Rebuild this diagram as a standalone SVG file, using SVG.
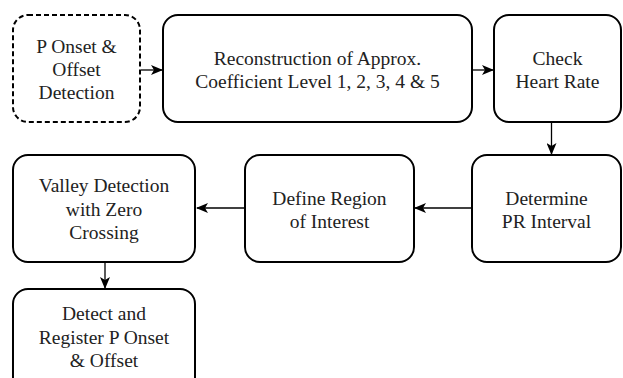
<svg xmlns="http://www.w3.org/2000/svg" width="623" height="378" viewBox="0 0 623 378">
<style>
.box{fill:#fff;stroke:#000;stroke-width:2}
.dash{stroke-dasharray:5 3}
.c{stroke:#000;stroke-width:1.3;fill:none;marker-end:url(#ah)}
</style>
<defs>
<marker id="ah" viewBox="0 0 12 10" refX="11" refY="5" markerWidth="12" markerHeight="10" markerUnits="userSpaceOnUse" orient="auto">
<path d="M0,0 L12,5 L0,10 L3,5 Z" fill="#000"/>
</marker>
</defs>
<rect width="623" height="378" fill="#fff"/>
<g id="connectors">
<line class="c" x1="141" y1="70" x2="162" y2="70"/>
<line class="c" x1="472" y1="70" x2="493" y2="70"/>
<line class="c" x1="551.5" y1="123" x2="551.5" y2="154"/>
<line class="c" x1="472" y1="208" x2="415" y2="208"/>
<line class="c" x1="245" y1="208" x2="197" y2="208"/>
<line class="c" x1="105" y1="262" x2="105" y2="288"/>
</g>
<g font-family="Tinos, 'Times New Roman', Times, 'Noto Serif', 'DejaVu Serif', FreeSerif, 'Liberation Serif', serif" font-size="19.5" fill="#222" text-anchor="middle">
<g id="n1">
<rect class="box dash" x="13" y="15" width="127" height="107" rx="15"/>
<text x="76.5" y="53">P Onset &amp;</text>
<text x="76.5" y="76">Offset</text>
<text x="76.5" y="99">Detection</text>
</g>
<g id="n2">
<rect class="box" x="163" y="15" width="309" height="107" rx="15"/>
<text x="317.5" y="65">Reconstruction of Approx.</text>
<text x="317.5" y="88">Coefficient Level 1, 2, 3, 4 &amp; 5</text>
</g>
<g id="n3">
<rect class="box" x="494" y="15" width="127" height="107" rx="15"/>
<text x="557.5" y="65">Check</text>
<text x="557.5" y="88">Heart Rate</text>
</g>
<g id="n4">
<rect class="box" x="472" y="155" width="149" height="107" rx="15"/>
<text x="546.5" y="205">Determine</text>
<text x="546.5" y="228">PR Interval</text>
</g>
<g id="n5">
<rect class="box" x="245" y="155" width="169" height="107" rx="15"/>
<text x="329.5" y="205">Define Region</text>
<text x="329.5" y="228">of Interest</text>
</g>
<g id="n6">
<rect class="box" x="13" y="155" width="182" height="107" rx="15"/>
<text x="104" y="192">Valley Detection</text>
<text x="104" y="216">with Zero</text>
<text x="104" y="239">Crossing</text>
</g>
<g id="n7">
<rect class="box" x="13" y="289" width="182" height="110" rx="15"/>
<text x="104" y="320">Detect and</text>
<text x="104" y="344">Register P Onset</text>
<text x="104" y="367">&amp; Offset</text>
</g>
</g>
</svg>
